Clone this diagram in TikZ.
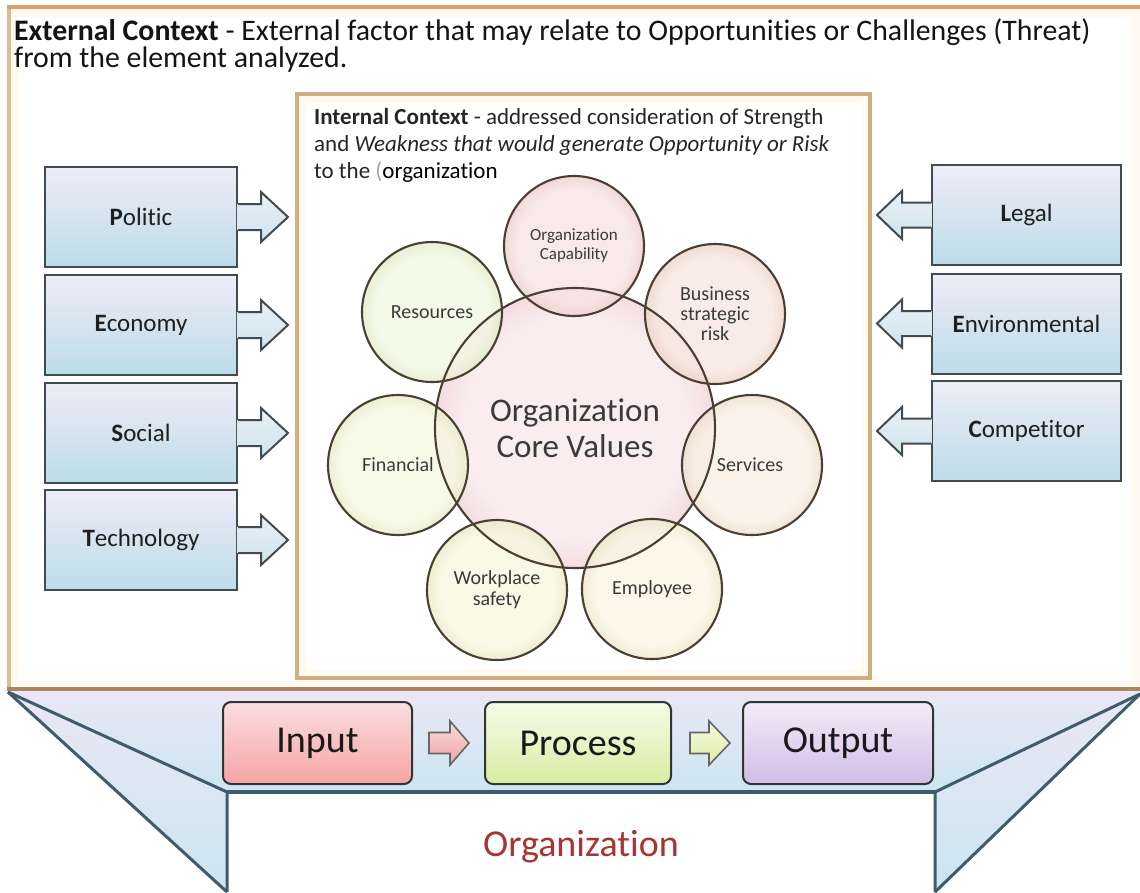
\documentclass[tikz,border=0pt]{standalone}
\usepackage{fontspec}
\setmainfont{Carlito}[Ligatures=NoCommon]
\usetikzlibrary{calc}

% soft bubble shading: pale body, tinted rim reaching full colour at the circle edge
\newcommand\bubbleshading[3]{%
  \pgfdeclareradialshading{#1}{\pgfpoint{0bp}{0bp}}{%
    rgb(0bp)=(#2); rgb(20bp)=(#2); rgb(35bp)=(#3); rgb(50bp)=(#3)}}
\bubbleshading{bubcore}{0.976,0.910,0.922}{0.900,0.680,0.715}
\bubbleshading{bubcap}{0.973,0.894,0.894}{0.875,0.650,0.650}
\bubbleshading{bubbus}{0.973,0.910,0.878}{0.845,0.670,0.585}
\bubbleshading{bubserv}{0.980,0.941,0.894}{0.870,0.740,0.610}
\bubbleshading{bubemp}{0.980,0.965,0.894}{0.860,0.795,0.600}
\bubbleshading{bubwork}{0.973,0.973,0.878}{0.830,0.815,0.595}
\bubbleshading{bubfin}{0.965,0.973,0.886}{0.800,0.835,0.595}
\bubbleshading{bubres}{0.949,0.973,0.886}{0.765,0.835,0.595}

% palette
\definecolor{outerside}{HTML}{D8BE96}
\definecolor{outertop}{HTML}{DB9F6B}
\definecolor{outerbot}{HTML}{B08460}
\definecolor{innerline}{HTML}{CFAE80}
\definecolor{glow}{HTML}{FFF9F0}
\definecolor{boxtop}{HTML}{EEECF7}
\definecolor{boxbot}{HTML}{BCDCE9}
\definecolor{arrtop}{HTML}{EAEFF7}
\definecolor{arrbot}{HTML}{CFE5EE}
\definecolor{boxline}{HTML}{424B52}
\definecolor{funline}{HTML}{3F5B6D}
\definecolor{bandtop}{HTML}{EAE7F5}
\definecolor{bandbot}{HTML}{CBE6F1}
\definecolor{bubline}{HTML}{4A3F33}
\definecolor{bubtext}{HTML}{3A3A3A}
\definecolor{orgred}{HTML}{A83434}

\tikzset{
  sidebox/.style={rectangle, inner sep=0pt, minimum height=100pt,
    top color=boxtop, bottom color=boxbot, draw=boxline, line width=2pt,
    font=\fontsize{25}{30}\selectfont, text=black!88},
  sidearrowfill/.style={top color=arrtop, bottom color=arrbot},
  sidearrowline/.style={draw=boxline, line width=2pt, line join=miter},
  bubble/.style={circle, inner sep=0pt, minimum size=140pt, align=center,
    text=bubtext, font=\fontsize{20}{21}\selectfont, shade, shading=#1,
    fill opacity=0.8, text opacity=1},
  bubline/.style={draw=bubline, line width=2.1pt},
  flowbox/.style={rectangle, rounded corners=8pt, draw=black!80, line width=2pt,
    minimum height=82pt, inner sep=0pt, font=\fontsize{38}{40}\selectfont,
    text=black!90},
  flowarrow/.style={draw=black!60, line width=1.6pt, line join=miter},
  funnel/.style={draw=funline, line width=3pt, line join=miter},
  titlefont/.style={font=\fontsize{29.8}{34}\selectfont, text=black!92, inner sep=0pt},
  intfont/.style={font=\fontsize{23}{27}\selectfont, text=black!85, inner sep=0pt},
}

\begin{document}
\begin{tikzpicture}[x=1pt, y=-1pt]
\useasboundingbox (0,0) rectangle (1140,892);
\fill[white] (0,0) rectangle (1140,892);

% ---------- organization funnel below the context frame ----------
\shade[top color=bandtop, bottom color=bandbot]
  (8,691) -- (1140,691) -- (935,792) -- (227,792) -- cycle;
\shade[top color=bandtop, bottom color=bandbot]
  (8,691) -- (227,792) -- (227,892) -- cycle;
\shade[top color=bandtop, bottom color=bandbot]
  (1140,691) -- (935,792) -- (935,892) -- cycle;
\coordinate (fl) at (8,692);
\coordinate (fr) at (1140,694);
\coordinate (bl) at (227,792);
\coordinate (br) at (935,792);
\coordinate (bl2) at (227,892);
\coordinate (br2) at (935,892);
\draw[funnel] (fl) -- (bl) -- (bl2);
\draw[funnel] (fl) -- (bl2);
\draw[funnel] (fr) -- (br) -- (br2);
\draw[funnel] (fr) -- (br2);
\draw[funnel, line width=4pt] (bl) -- (br);
\node[font=\fontsize{38}{40}\selectfont, text=orgred] (org) at (581,847) {Organization};

% ---------- external context frame ----------
\draw[glow, line width=8pt] (15,13) rectangle (1136,684);
\draw[outerside, line width=4.5pt] (9,7) rectangle (1142,689);
\draw[outertop, line width=4pt] (7,6.5) -- (1140,6.5);
\draw[outerbot, line width=4.5pt] (7,689) -- (1140,689);

\node[titlefont, anchor=base west] (title1) at (14,40)
  {\textbf{External Context} - External factor that may relate to Opportunities or Challenges (Threat)};
\node[titlefont, anchor=base west] (title2) at (14,67) {from the element analyzed.};

% ---------- internal context frame ----------
\draw[glow, line width=7pt] (302,99) rectangle (865,673);
\draw[innerline, line width=3.5pt] (297,94) rectangle (870,678);

\node[intfont, anchor=base west] (int1) at (314,124)
  {\textbf{Internal Context} - addressed consideration of Strength};
\node[intfont, anchor=base west] (int2) at (314,151)
  {and \textit{Weakness that would generate Opportunity or Risk}};
\node[intfont, anchor=base west] (int3) at (314,178)
  {to the \textcolor{black!35}{(}\textcolor{black}{organization}};

% ---------- external factors, left column ----------
\node[sidebox, minimum width=192pt] (politic)    at (141,217) {\textbf{P}olitic};
\node[sidebox, minimum width=192pt] (economy)    at (141,325) {\textbf{E}conomy};
\node[sidebox, minimum width=192pt] (social)     at (141,433) {\textbf{S}ocial};
\node[sidebox, minimum width=192pt] (technology) at (141,540) {\textbf{T}echnology};

\foreach \n in {politic,economy,social,technology} {
  \fill[sidearrowfill]
    ($(\n.east)+(-1.2,-13)$) -- ($(\n.east)+(23,-13)$) -- ($(\n.east)+(23,-25)$)
    -- ($(\n.east)+(50,0)$) -- ($(\n.east)+(23,25)$) -- ($(\n.east)+(23,13)$)
    -- ($(\n.east)+(-1.2,13)$) -- cycle;
  \draw[sidearrowline]
    ($(\n.east)+(0,-13)$) -- ($(\n.east)+(23,-13)$) -- ($(\n.east)+(23,-25)$)
    -- ($(\n.east)+(50,0)$) -- ($(\n.east)+(23,25)$) -- ($(\n.east)+(23,13)$)
    -- ($(\n.east)+(0,13)$);
}

% ---------- external factors, right column ----------
\node[sidebox, minimum width=189pt] (legal)         at (1026.5,215) {\textbf{L}egal};
\node[sidebox, minimum width=189pt] (environmental) at (1026.5,323.5) {\textbf{E}nvironmental};
\node[sidebox, minimum width=189pt] (competitor)    at (1026.5,431) {\textbf{C}ompetitor};

\foreach \n in {legal,environmental,competitor} {
  \fill[sidearrowfill]
    ($(\n.west)+(1.2,-12.5)$) -- ($(\n.west)+(-29,-12.5)$) -- ($(\n.west)+(-29,-24)$)
    -- ($(\n.west)+(-54,0)$) -- ($(\n.west)+(-29,24)$) -- ($(\n.west)+(-29,12.5)$)
    -- ($(\n.west)+(1.2,12.5)$) -- cycle;
  \draw[sidearrowline]
    ($(\n.west)+(0,-12.5)$) -- ($(\n.west)+(-29,-12.5)$) -- ($(\n.west)+(-29,-24)$)
    -- ($(\n.west)+(-54,0)$) -- ($(\n.west)+(-29,24)$) -- ($(\n.west)+(-29,12.5)$)
    -- ($(\n.west)+(0,12.5)$);
}

% ---------- core values and surrounding bubbles ----------
\node[bubble=bubcore, minimum size=280pt, font=\fontsize{33}{36}\selectfont]
  (core) at (575,428) {Organization\\Core Values};
\node[bubble=bubcap, font=\fontsize{17}{19}\selectfont] (cap) at (574,246) {Organization\\Capability};
\node[bubble=bubbus, font=\fontsize{20}{20}\selectfont] (bus) at (715,314) {Business\\strategic\\risk};
\node[bubble=bubserv] (serv) at (752,465) {\hspace*{-4pt}Services};
\node[bubble=bubemp]  (emp)  at (652,589) {Employee};
\node[bubble=bubwork] (work) at (497,590) {Workplace\\safety};
\node[bubble=bubfin]  (fin)  at (398,465) {Financial};
\node[bubble=bubres]  (res)  at (432,312) {Resources};

\draw[bubline] (core.center) circle[radius=140];
\foreach \c in {cap,bus,serv,emp,work,fin,res}
  \draw[bubline] (\c.center) circle[radius=70];

% ---------- input / process / output ----------
\node[flowbox, minimum width=189pt, top color={rgb,255:red,251;green,222;blue,222},
      bottom color={rgb,255:red,245;green,164;blue,164}] (input) at (317.5,743) {Input};
\node[flowbox, minimum width=186pt, top color={rgb,255:red,246;green,251;blue,232},
      bottom color={rgb,255:red,214;green,237;blue,162}] (process) at (578,743) {Process};
\node[flowbox, minimum width=190pt, top color={rgb,255:red,244;green,236;blue,249},
      bottom color={rgb,255:red,210;green,188;blue,230}] (output) at (838,743) {Output};

\draw[flowarrow, top color={rgb,255:red,250;green,218;blue,218}, bottom color={rgb,255:red,240;green,164;blue,164}]
  ($(input.east)+(16,-10.5)$) -- ($(input.east)+(37,-10.5)$) -- ($(input.east)+(37,-22)$)
  -- ($(input.east)+(56,0)$) -- ($(input.east)+(37,22)$) -- ($(input.east)+(37,10.5)$)
  -- ($(input.east)+(16,10.5)$) -- cycle;
\draw[flowarrow, top color={rgb,255:red,246;green,250;blue,222}, bottom color={rgb,255:red,222;green,236;blue,168}]
  ($(process.east)+(18,-10.5)$) -- ($(process.east)+(37,-10.5)$) -- ($(process.east)+(37,-22)$)
  -- ($(process.east)+(58,0)$) -- ($(process.east)+(37,22)$) -- ($(process.east)+(37,10.5)$)
  -- ($(process.east)+(18,10.5)$) -- cycle;
\end{tikzpicture}
\end{document}
